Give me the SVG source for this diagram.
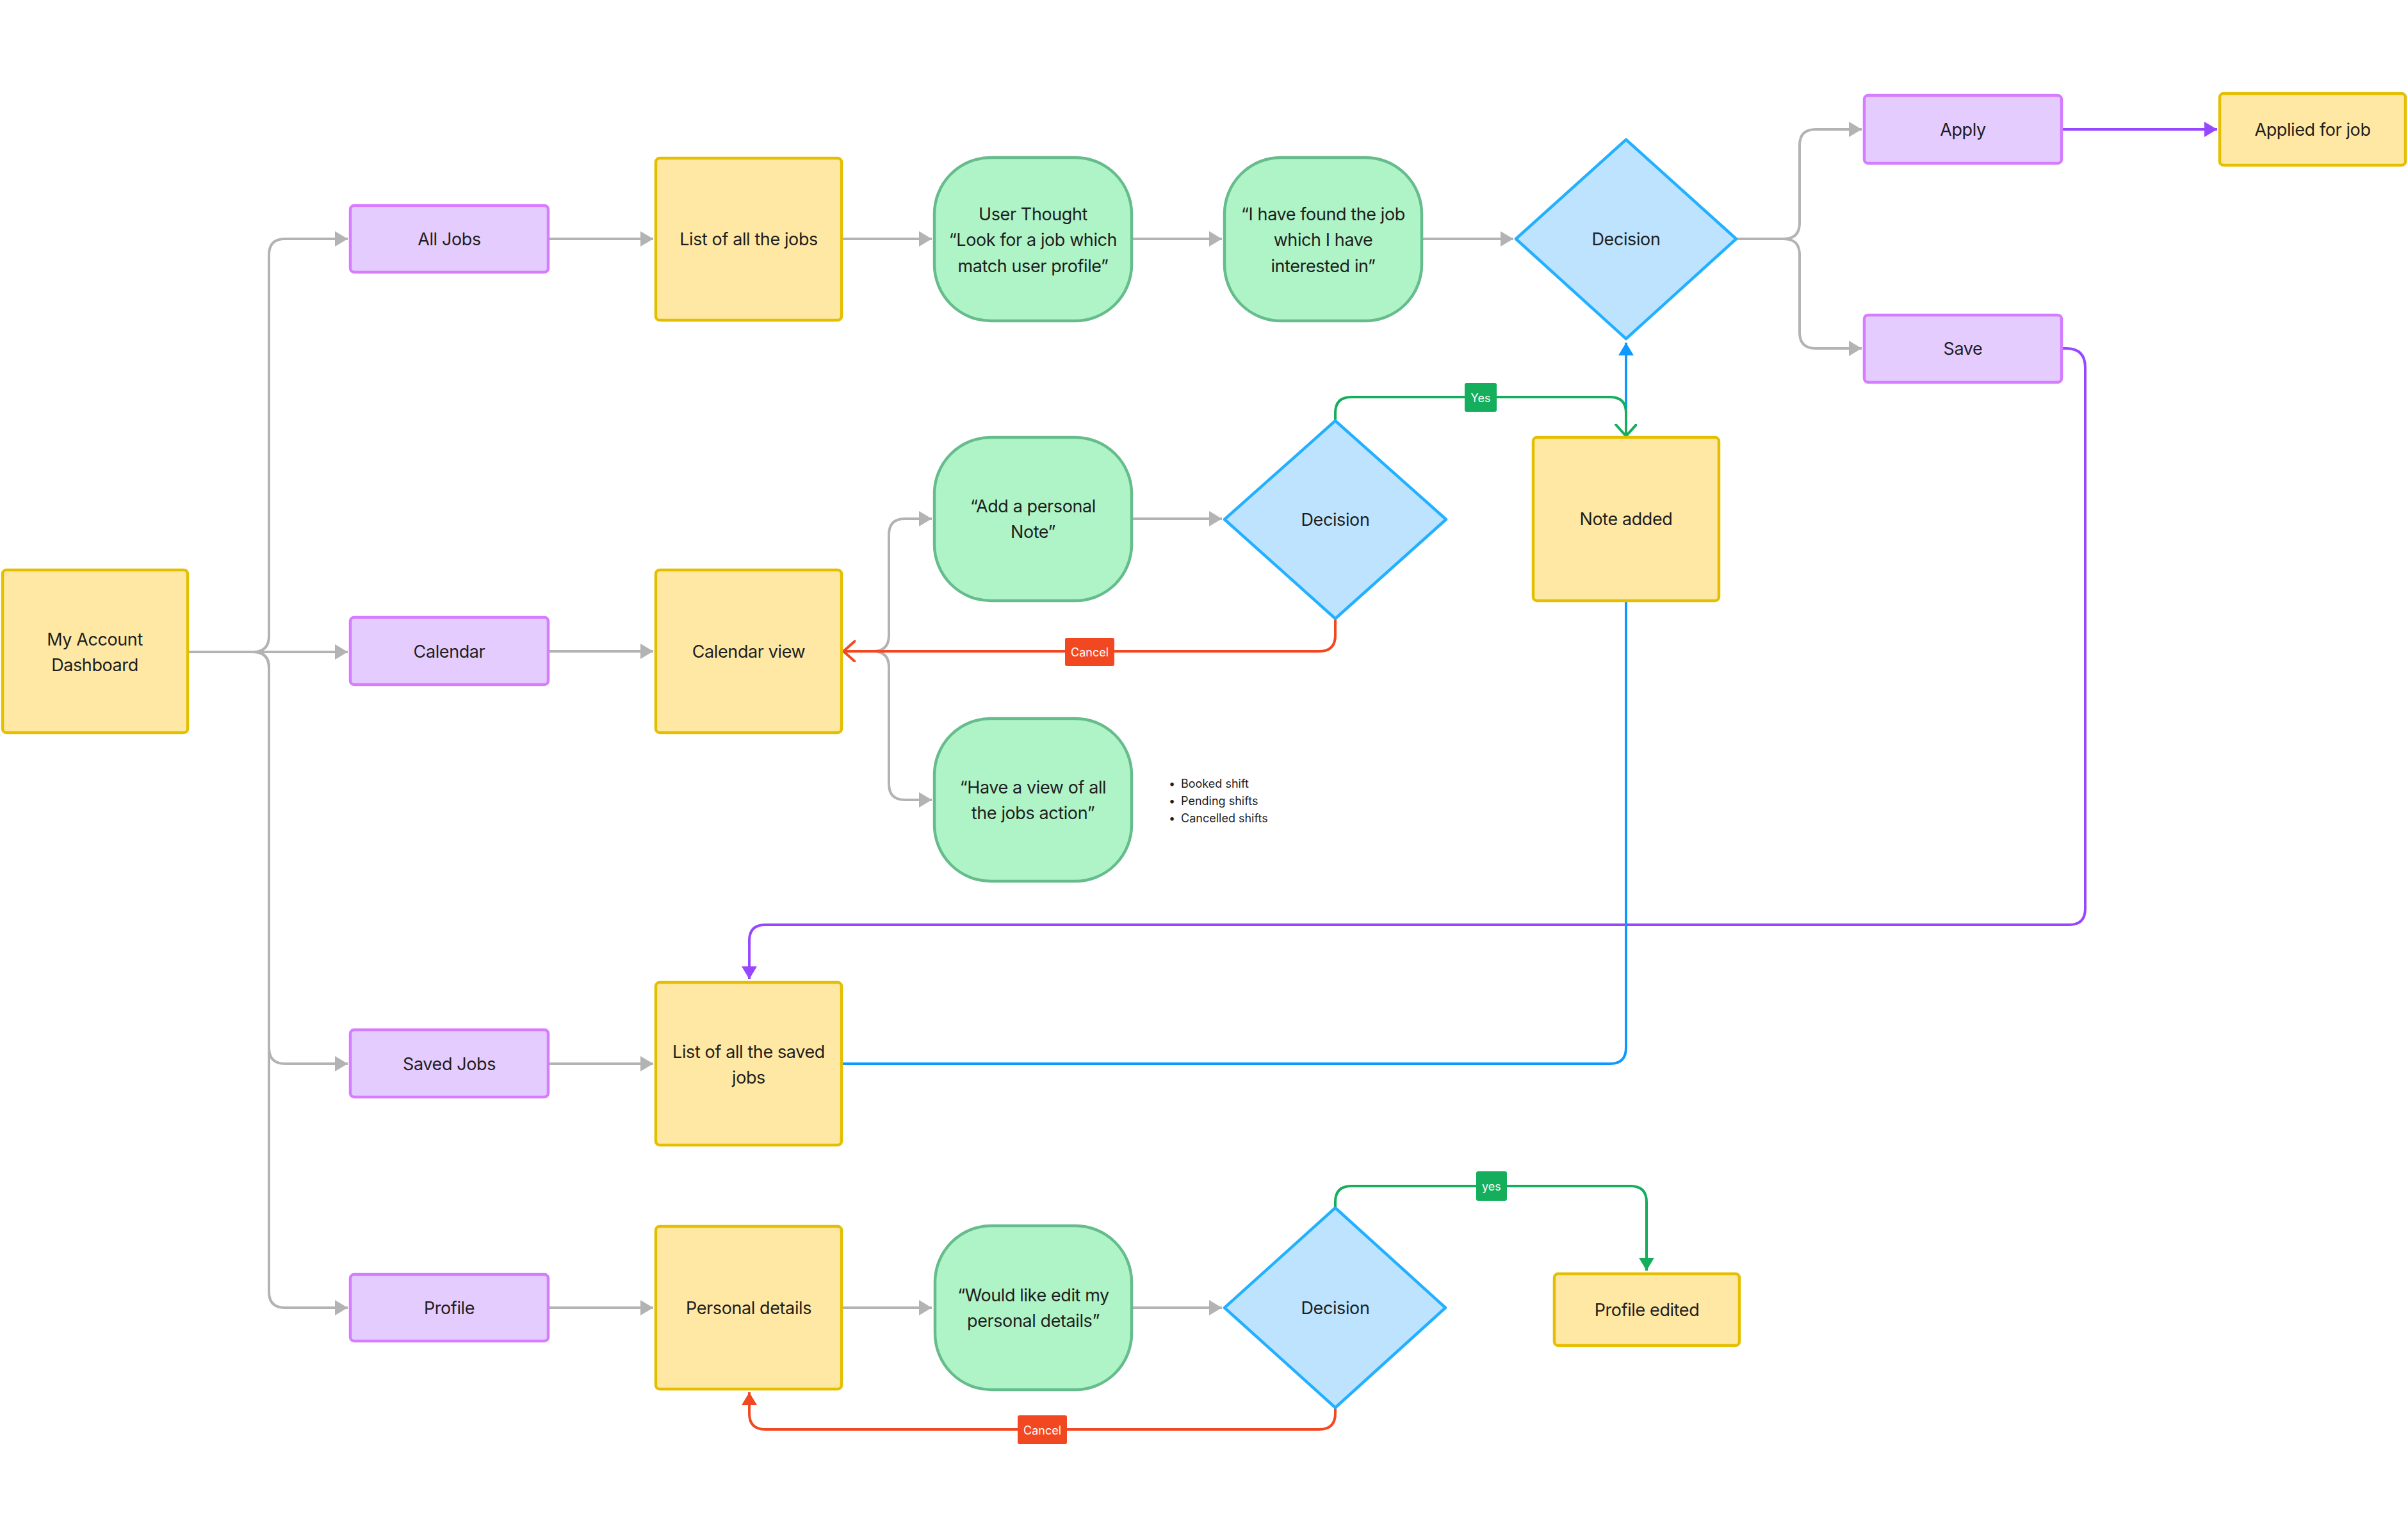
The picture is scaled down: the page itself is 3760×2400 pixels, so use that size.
<svg xmlns="http://www.w3.org/2000/svg" width="3760" height="2400" viewBox="0 0 3760 2400">
<defs>
<style>
text{font-family:Inter,"Noto Sans","Liberation Sans",sans-serif;fill:#1E1E1E;font-size:27px;letter-spacing:-0.4px;text-anchor:middle;dominant-baseline:central}
.y{fill:#FFE8A3;stroke:#E4BF00;stroke-width:4.5}
.p{fill:#E5CCFF;stroke:#D57CFF;stroke-width:4.5}
.g{fill:#AFF4C6;stroke:#66BC8C;stroke-width:4.5}
.b{fill:#BDE3FF;stroke:#22B0FF;stroke-width:4.5;stroke-linejoin:round}
.c{fill:none;stroke-width:4;stroke-linecap:butt}
.gr{stroke:#B3B3B3}
.pu{stroke:#9747FF}
.bl{stroke:#0D99FF}
.gn{stroke:#14AE5C}
.rd{stroke:#F24822}
.lbl{fill:#FFFFFF;font-size:18px;letter-spacing:0}
.sm{font-size:18px;letter-spacing:0;text-anchor:start}
</style>
<marker id="aGray" markerUnits="userSpaceOnUse" markerWidth="22" markerHeight="26" refX="20" refY="12" orient="auto"><path d="M0,0 L20,12 L0,24 Z" fill="#B3B3B3"/></marker>
<marker id="aPurple" markerUnits="userSpaceOnUse" markerWidth="22" markerHeight="26" refX="20" refY="12" orient="auto"><path d="M0,0 L20,12 L0,24 Z" fill="#9747FF"/></marker>
<marker id="aBlue" markerUnits="userSpaceOnUse" markerWidth="22" markerHeight="26" refX="20" refY="12" orient="auto"><path d="M0,0 L20,12 L0,24 Z" fill="#0D99FF"/></marker>
<marker id="aGreen" markerUnits="userSpaceOnUse" markerWidth="22" markerHeight="26" refX="20" refY="12" orient="auto"><path d="M0,0 L20,12 L0,24 Z" fill="#14AE5C"/></marker>
<marker id="aRed" markerUnits="userSpaceOnUse" markerWidth="22" markerHeight="26" refX="20" refY="12" orient="auto"><path d="M0,0 L20,12 L0,24 Z" fill="#F24822"/></marker>
<marker id="oGreen" markerUnits="userSpaceOnUse" markerWidth="24" markerHeight="38" refX="19" refY="17" orient="auto"><path d="M1,1 L19,17 L1,33" fill="none" stroke="#14AE5C" stroke-width="4" stroke-linecap="round" stroke-linejoin="round"/></marker>
<marker id="oRed" markerUnits="userSpaceOnUse" markerWidth="24" markerHeight="38" refX="19" refY="17" orient="auto"><path d="M1,1 L19,17 L1,33" fill="none" stroke="#F24822" stroke-width="4" stroke-linecap="round" stroke-linejoin="round"/></marker>
</defs>
<rect width="3760" height="2400" fill="#FFFFFF"/>
<g id="connectors">
<path class="c gr" marker-end="url(#aGray)" d="M295,1018 H395 Q420,1018 420,993 V398 Q420,373 445,373 H543"/>
<path class="c gr" marker-end="url(#aGray)" d="M295,1018 H543"/>
<path class="c gr" marker-end="url(#aGray)" d="M295,1018 H395 Q420,1018 420,1043 V1636 Q420,1661 445,1661 H543"/>
<path class="c gr" marker-end="url(#aGray)" d="M295,1018 H395 Q420,1018 420,1043 V2017 Q420,2042 445,2042 H543"/>
<path class="c gr" marker-end="url(#aGray)" d="M856,373 H1020"/>
<path class="c gr" marker-end="url(#aGray)" d="M856,1017 H1020"/>
<path class="c gr" marker-end="url(#aGray)" d="M856,1661 H1020"/>
<path class="c gr" marker-end="url(#aGray)" d="M856,2042 H1020"/>
<path class="c gr" marker-end="url(#aGray)" d="M1314,373 H1455"/>
<path class="c gr" marker-end="url(#aGray)" d="M1767,373 H1908"/>
<path class="c gr" marker-end="url(#aGray)" d="M2220,373 H2363"/>
<path class="c gr" marker-end="url(#aGray)" d="M2711,373 H2785 Q2810,373 2810,348 V227 Q2810,202 2835,202 H2907"/>
<path class="c gr" marker-end="url(#aGray)" d="M2711,373 H2785 Q2810,373 2810,398 V519 Q2810,544 2835,544 H2907"/>
<path class="c gr" marker-end="url(#aGray)" d="M1314,1017 H1363 Q1388,1017 1388,992 V835 Q1388,810 1413,810 H1455"/>
<path class="c gr" marker-end="url(#aGray)" d="M1314,1017 H1363 Q1388,1017 1388,1042 V1224 Q1388,1249 1413,1249 H1455"/>
<path class="c gr" marker-end="url(#aGray)" d="M1767,810 H1908"/>
<path class="c gr" marker-end="url(#aGray)" d="M1314,2042 H1455"/>
<path class="c gr" marker-end="url(#aGray)" d="M1767,2042 H1908"/>
<path class="c pu" marker-end="url(#aPurple)" d="M3219,202 H3462"/>
<path class="c pu" marker-end="url(#aPurple)" d="M3219,544 H3226 Q3256,544 3256,574 V1419 Q3256,1444 3231,1444 H1195 Q1170,1444 1170,1469 V1529"/>
<path class="c bl" marker-end="url(#aBlue)" d="M1314,1661 H2514 Q2539,1661 2539,1636 V535"/>
<path class="c gn" marker-end="url(#oGreen)" d="M2085,657 V645 Q2085,620 2110,620 H2514 Q2539,620 2539,645 V681"/>
<path class="c gn" marker-end="url(#aGreen)" d="M2085,1886 V1877 Q2085,1852 2110,1852 H2546 Q2571,1852 2571,1877 V1984"/>
<path class="c rd" marker-end="url(#oRed)" d="M2085,966 V992 Q2085,1017 2060,1017 H1317"/>
<path class="c rd" marker-end="url(#aRed)" d="M2085,2198 V2207 Q2085,2232 2060,2232 H1195 Q1170,2232 1170,2207 V2174"/>
<g id="label-yes-1"><rect x="2287" y="598" width="50" height="45" rx="3" fill="#14AE5C"/><text class="lbl" x="2312" y="621">Yes</text></g>
<g id="label-cancel-1"><rect x="1663" y="996" width="77" height="44" rx="3" fill="#F24822"/><text class="lbl" x="1701.5" y="1018">Cancel</text></g>
<g id="label-yes-2"><rect x="2305" y="1829" width="48" height="46" rx="3" fill="#14AE5C"/><text class="lbl" x="2329" y="1852">yes</text></g>
<g id="label-cancel-2"><rect x="1589" y="2210" width="77" height="45" rx="3" fill="#F24822"/><text class="lbl" x="1627.5" y="2233">Cancel</text></g>
</g>
<g id="dashboard"><rect class="y" x="4" y="890" width="289" height="254" rx="6"/><text x="148" y="998">My Account</text><text x="148" y="1038">Dashboard</text></g>
<g id="all-jobs"><rect class="p" x="547" y="321" width="309" height="104" rx="6"/><text x="701.5" y="373">All Jobs</text></g>
<g id="calendar"><rect class="p" x="547" y="964" width="309" height="105" rx="6"/><text x="701.5" y="1017">Calendar</text></g>
<g id="saved-jobs"><rect class="p" x="547" y="1608" width="309" height="105" rx="6"/><text x="701.5" y="1661">Saved Jobs</text></g>
<g id="profile"><rect class="p" x="547" y="1990" width="309" height="104" rx="6"/><text x="701.5" y="2042">Profile</text></g>
<g id="list-jobs"><rect class="y" x="1024" y="247" width="290" height="253" rx="6"/><text x="1169" y="373">List of all the jobs</text></g>
<g id="calendar-view"><rect class="y" x="1024" y="890" width="290" height="254" rx="6"/><text x="1169" y="1017">Calendar view</text></g>
<g id="list-saved"><rect class="y" x="1024" y="1534" width="290" height="254" rx="6"/><text x="1169" y="1642">List of all the saved</text><text x="1169" y="1682">jobs</text></g>
<g id="personal-details"><rect class="y" x="1024" y="1915" width="290" height="254" rx="6"/><text x="1169" y="2042">Personal details</text></g>
<g id="user-thought"><rect class="g" x="1459" y="246" width="308" height="255" rx="88"/><text x="1613" y="334">User Thought</text><text x="1613" y="374">“Look for a job which</text><text x="1613" y="415">match user profile”</text></g>
<g id="found-job"><rect class="g" x="1912" y="246" width="308" height="255" rx="88"/><text x="2066" y="334">“I have found the job</text><text x="2066" y="374">which I have</text><text x="2066" y="415">interested in”</text></g>
<g id="decision-1"><path class="b" d="M2539,218 L2711,373 L2539,529 L2367,373 Z"/><text x="2539" y="373">Decision</text></g>
<g id="apply"><rect class="p" x="2911" y="149" width="308" height="106" rx="6"/><text x="3065" y="202">Apply</text></g>
<g id="applied"><rect class="y" x="3466" y="146" width="290" height="112" rx="6"/><text x="3611" y="202">Applied for job</text></g>
<g id="save"><rect class="p" x="2911" y="492" width="308" height="105" rx="6"/><text x="3065" y="544">Save</text></g>
<g id="add-note"><rect class="g" x="1459" y="683" width="308" height="255" rx="88"/><text x="1613" y="790">“Add a personal</text><text x="1613" y="830">Note”</text></g>
<g id="decision-2"><path class="b" d="M2085,657 L2258,811 L2085,966 L1912,811 Z"/><text x="2085" y="811">Decision</text></g>
<g id="note-added"><rect class="y" x="2394" y="683" width="290" height="255" rx="6"/><text x="2539" y="810">Note added</text></g>
<g id="view-all"><rect class="g" x="1459" y="1122" width="308" height="254" rx="88"/><text x="1613" y="1229">“Have a view of all</text><text x="1613" y="1269">the jobs action”</text></g>
<g id="shift-list"><text class="sm" x="1825" y="1223">•</text><text class="sm" x="1844" y="1223">Booked shift</text><text class="sm" x="1825" y="1250">•</text><text class="sm" x="1844" y="1250">Pending shifts</text><text class="sm" x="1825" y="1277">•</text><text class="sm" x="1844" y="1277">Cancelled shifts</text></g>
<g id="edit-details"><rect class="g" x="1460" y="1914" width="307" height="256" rx="88"/><text x="1613.5" y="2022">“Would like edit my</text><text x="1613.5" y="2062">personal details”</text></g>
<g id="decision-3"><path class="b" d="M2085,1886 L2257,2042 L2085,2198 L1912,2042 Z"/><text x="2085" y="2042">Decision</text></g>
<g id="profile-edited"><rect class="y" x="2427" y="1989" width="289" height="112" rx="6"/><text x="2571.5" y="2045">Profile edited</text></g>
</svg>
